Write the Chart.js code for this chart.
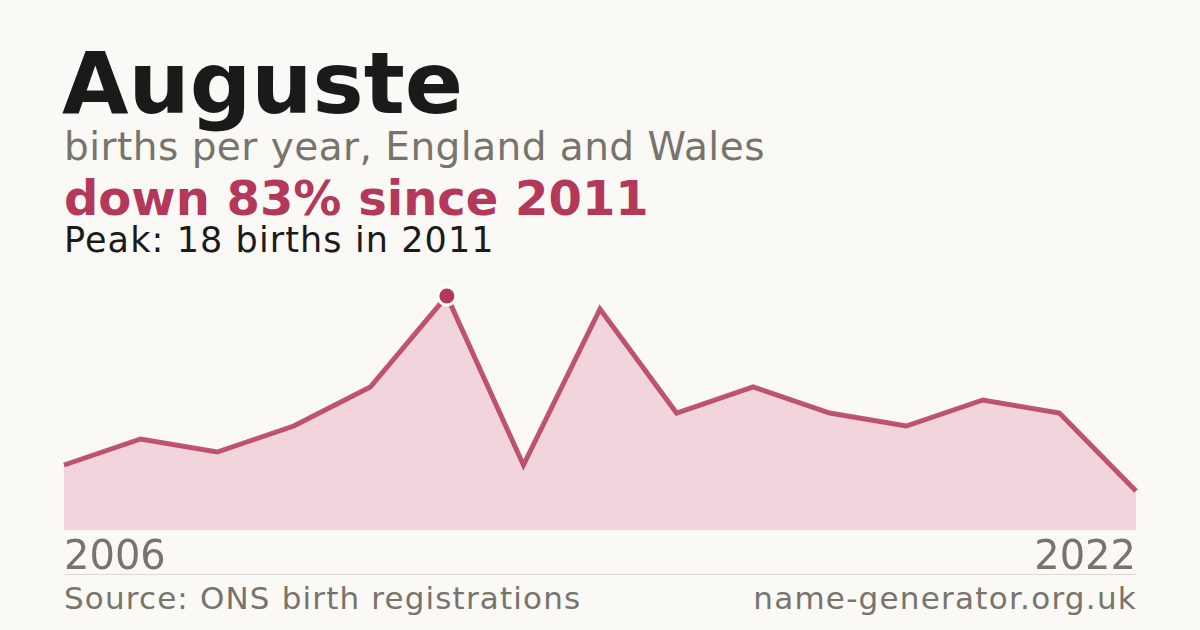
<!DOCTYPE html>
<html>
<head>
<meta charset="utf-8">
<script src="https://cdn.jsdelivr.net/npm/chart.js@4"></script>
<style>
  html, body { margin:0; padding:0; }
  body { width:1200px; height:630px; background:#faf9f5; position:relative; overflow:hidden; font-family:"DejaVu Sans", sans-serif; }
  .t { position:absolute; line-height:1; white-space:nowrap; }
  #title { left:62px; top:40px; font-size:86px; font-weight:bold; color:#1a1a1a; }
  #sub { left:64px; top:127px; font-size:39px; letter-spacing:0.47px; color:#78746c; }
  #change { left:64px; top:174px; font-size:48px; font-weight:bold; color:#b3385a; }
  #peak { left:64px; top:223px; font-size:35px; letter-spacing:1.1px; color:#1a1a1a; }
  #y0 { left:64px; top:535px; font-size:40px; color:#78746c; }
  #y1 { right:64px; top:535px; font-size:40px; color:#78746c; }
  #rule { position:absolute; left:64px; top:574px; width:1072px; height:1px; background:#dcd9d1; }
  #src { left:64px; top:583px; font-size:31px; letter-spacing:1.15px; color:#78746c; }
  #site { right:63px; top:583px; font-size:31px; letter-spacing:1.25px; color:#78746c; }
  #wrap { position:absolute; left:0; top:280px; width:1200px; height:260px; }
</style>
</head>
<body>
<div class="t" id="title">Auguste</div>
<div class="t" id="sub">births per year, England and Wales</div>
<div class="t" id="change">down 83% since 2011</div>
<div class="t" id="peak">Peak: 18 births in 2011</div>
<div id="wrap"><canvas id="c"></canvas></div>
<div class="t" id="y0">2006</div>
<div class="t" id="y1">2022</div>
<div id="rule"></div>
<div class="t" id="src">Source: ONS birth registrations</div>
<div class="t" id="site">name-generator.org.uk</div>
<script>
const years = ["2006","2007","2008","2009","2010","2011","2012","2013","2014","2015","2016","2017","2018","2019","2022"];
const births = [5, 7, 6, 8, 11, 18, 5, 17, 9, 11, 9, 8, 10, 9, 3];
const peakIndex = 5;

const pointRadii = births.map((v, i) => i === peakIndex ? 9 : 0);

new Chart(document.getElementById('c'), {
  type: 'line',
  data: {
    labels: years,
    datasets: [{
      data: births,
      borderColor: 'rgba(179,56,90,0.85)',
      borderWidth: 5,
      backgroundColor: '#f2d5dc',
      fill: 'origin',
      tension: 0,
      pointRadius: pointRadii,
      pointHoverRadius: pointRadii,
      pointBackgroundColor: '#b3385a',
      pointBorderColor: '#ffffff',
      pointBorderWidth: 3,
      clip: false
    }]
  },
  options: {
    responsive: true,
    maintainAspectRatio: false,
    animation: false,
    events: [],
    layout: { padding: { left: 64, right: 64, top: 16, bottom: 10 } },
    plugins: { legend: { display: false }, tooltip: { enabled: false } },
    scales: {
      x: { display: false, offset: false },
      y: { display: false, min: 0, max: 18 }
    }
  }
});
</script>
</body>
</html>
